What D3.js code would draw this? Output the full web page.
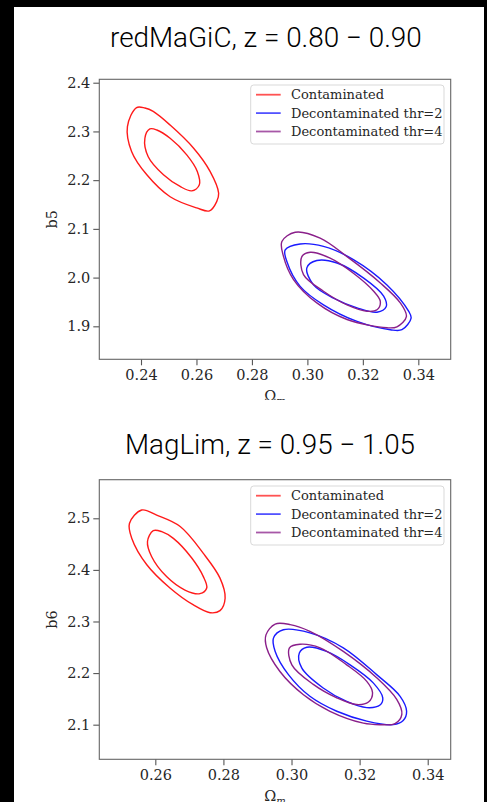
<!DOCTYPE html>
<html>
<head>
<meta charset="utf-8">
<script src="https://cdn.jsdelivr.net/npm/d3@7"></script>
<style>
  body { margin: 0; background: #000; }
  svg { display: block; }
</style>
</head>
<body>
<script>
// ---- data ----
const legendLabels = ["Contaminated", "Decontaminated thr=2", "Decontaminated thr=4"];
const seriesColors = ["#ff1a1a", "#1a1aff", "#8a1f8a"];

// redMaGiC panel
const rmTitle = "redMaGiC, z = 0.80 \u2212 0.90";
const rmXTicks = [0.24, 0.26, 0.28, 0.30, 0.32, 0.34];
const rmYTicks = [1.9, 2.0, 2.1, 2.2, 2.3, 2.4];
const rmContOuter = [[0.2384,2.349],[0.2351,2.310],[0.2366,2.259],[0.2421,2.211],[0.2505,2.166],[0.2601,2.143],[0.2647,2.137],[0.2673,2.156],[0.2680,2.173],[0.2649,2.218],[0.2589,2.266],[0.2505,2.313],[0.2444,2.341],[0.2414,2.348]];
const rmContInner = [[0.2432,2.305],[0.2414,2.286],[0.2426,2.248],[0.2481,2.211],[0.2541,2.187],[0.2583,2.178],[0.2610,2.190],[0.2603,2.218],[0.2565,2.252],[0.2505,2.286],[0.2457,2.303]];
const rmThr2Outer = [[0.2974,2.069],[0.2920,2.057],[0.2926,2.033],[0.2974,1.982],[0.3058,1.944],[0.3179,1.910],[0.3299,1.893],[0.3341,1.893],[0.3374,1.917],[0.3365,1.931],[0.3287,1.985],[0.3166,2.037],[0.3058,2.064]];
const rmThr2Inner = [[0.3034,2.035],[0.2998,2.020],[0.3022,1.985],[0.3094,1.958],[0.3179,1.938],[0.3251,1.929],[0.3284,1.940],[0.3275,1.962],[0.3203,1.999],[0.3107,2.030]];
const rmThr4Outer = [[0.2956,2.093],[0.2908,2.074],[0.2914,2.043],[0.2950,1.996],[0.3034,1.948],[0.3143,1.914],[0.3287,1.897],[0.3323,1.899],[0.3357,1.920],[0.3335,1.948],[0.3263,1.989],[0.3143,2.043],[0.3046,2.081]];
const rmThr4Inner = [[0.3010,2.052],[0.2980,2.043],[0.2986,2.006],[0.3058,1.972],[0.3143,1.944],[0.3215,1.931],[0.3251,1.934],[0.3263,1.951],[0.3239,1.972],[0.3166,2.009],[0.3082,2.040]];

// MagLim panel
const mlTitle = "MagLim, z = 0.95 \u2212 1.05";
const mlXTicks = [0.26, 0.28, 0.30, 0.32, 0.34];
const mlYTicks = [2.1, 2.2, 2.3, 2.4, 2.5];
const mlContOuter = [[0.2560,2.516],[0.2524,2.490],[0.2531,2.461],[0.2575,2.410],[0.2643,2.365],[0.2712,2.332],[0.2761,2.317],[0.2790,2.321],[0.2805,2.345],[0.2790,2.384],[0.2741,2.432],[0.2673,2.484],[0.2604,2.506]];
const mlContInner = [[0.2594,2.476],[0.2577,2.455],[0.2589,2.426],[0.2633,2.387],[0.2687,2.361],[0.2731,2.354],[0.2751,2.365],[0.2741,2.387],[0.2707,2.423],[0.2653,2.461],[0.2619,2.474]];
const mlThr2Outer = [[0.2976,2.284],[0.2947,2.268],[0.2952,2.242],[0.2991,2.197],[0.3054,2.155],[0.3133,2.126],[0.3221,2.107],[0.3299,2.100],[0.3328,2.108],[0.3338,2.126],[0.3319,2.155],[0.3250,2.197],[0.3152,2.249],[0.3054,2.278]];
const mlThr2Inner = [[0.3045,2.250],[0.3023,2.239],[0.3030,2.210],[0.3093,2.171],[0.3162,2.145],[0.3221,2.133],[0.3260,2.138],[0.3268,2.152],[0.3240,2.181],[0.3172,2.216],[0.3103,2.242]];
const mlThr4Outer = [[0.2952,2.295],[0.2925,2.274],[0.2927,2.249],[0.2966,2.203],[0.3035,2.158],[0.3113,2.126],[0.3211,2.103],[0.3260,2.100],[0.3304,2.102],[0.3324,2.120],[0.3309,2.149],[0.3250,2.191],[0.3152,2.242],[0.3054,2.281],[0.2996,2.294]];
const mlThr4Inner = [[0.3025,2.256],[0.2994,2.249],[0.3001,2.216],[0.3064,2.178],[0.3133,2.152],[0.3191,2.139],[0.3226,2.144],[0.3238,2.162],[0.3221,2.184],[0.3162,2.216],[0.3084,2.249]];

const W = 487, H = 802;

const svg = d3.select("body").append("svg")
  .attr("width", W).attr("height", H);

svg.append("rect").attr("width", W).attr("height", H).attr("fill", "#000");
svg.append("rect").attr("x", 14).attr("y", 7).attr("width", 470).attr("height", H - 7).attr("fill", "#fff");

const defs = svg.append("defs");

function drawPanel(p) {
  const clipId = "clip" + p.id;
  defs.append("clipPath").attr("id", clipId)
    .append("rect").attr("x", 0).attr("y", p.clipTop).attr("width", W).attr("height", p.clipBottom - p.clipTop);

  const g = svg.append("g").attr("clip-path", "url(#" + clipId + ")");

  const x = d3.scaleLinear().domain(p.xDomain).range([p.left, p.right]);
  const y = d3.scaleLinear().domain(p.yDomain).range([p.bottom, p.top]);

  // title
  g.append("text")
    .attr("x", p.titleX).attr("y", p.titleY)
    .attr("textLength", p.titleLen).attr("lengthAdjust", "spacingAndGlyphs")
    .style("font-family", "Roboto, 'Open Sans', sans-serif")
    .style("font-weight", 300)
    .style("font-size", "27px").style("fill", "#000")
    .text(p.title);

  // contours
  const line = d3.line().x(d => x(d[0])).y(d => y(d[1]))
    .curve(d3.curveCatmullRomClosed.alpha(0.5));
  p.series.forEach((s, i) => {
    s.forEach(c => {
      g.append("path").attr("d", line(c))
        .attr("fill", "none").attr("stroke", seriesColors[i])
        .attr("stroke-width", 1.4);
    });
  });

  // axes
  const xAxis = g.append("g").attr("transform", `translate(0,${p.bottom})`)
    .call(d3.axisBottom(x).tickValues(p.xTicks).tickFormat(d3.format(".2f")).tickSize(6).tickPadding(4));
  const yAxis = g.append("g").attr("transform", `translate(${p.left},0)`)
    .call(d3.axisLeft(y).tickValues(p.yTicks).tickFormat(d3.format(".1f")).tickSize(6).tickPadding(3));
  [xAxis, yAxis].forEach(a => {
    a.select(".domain").remove();
    a.selectAll(".tick line").attr("stroke", "#555").attr("stroke-width", 1.1);
    a.selectAll(".tick text")
      .style("font-family", "'DejaVu Serif', serif")
      .style("font-size", "14.5px").attr("fill", "#262626");
  });

  // frame
  g.append("rect")
    .attr("x", p.left).attr("y", p.top)
    .attr("width", p.right - p.left).attr("height", p.bottom - p.top)
    .attr("fill", "none").attr("stroke", "#666").attr("stroke-width", 1.1);

  // axis labels
  g.append("text")
    .attr("transform", `translate(56.5,${(p.top + p.bottom) / 2}) rotate(-90)`)
    .attr("text-anchor", "middle")
    .style("font-family", "'DejaVu Serif', serif").style("font-size", "14.5px").attr("fill", "#262626")
    .text(p.yLabel);

  // x label sits low, partly cut by the panel edge as in the source image
  const xl = g.append("text")
    .attr("x", (p.left + p.right) / 2).attr("y", p.bottom + 42)
    .attr("text-anchor", "middle")
    .style("font-family", "'DejaVu Serif', serif").style("font-size", "14.5px").attr("fill", "#262626");
  xl.append("tspan").text("\u03A9");
  xl.append("tspan").attr("dy", 3).style("font-size", "10px").style("font-style", "italic").text("m");

  // legend
  const lg = g.append("g");
  lg.append("rect")
    .attr("x", p.legX).attr("y", p.legY).attr("width", 193.3).attr("height", 59)
    .attr("rx", 3).attr("fill", "#fff").attr("fill-opacity", 0.8)
    .attr("stroke", "#d9d9d9").attr("stroke-width", 1);
  legendLabels.forEach((lab, i) => {
    const cy = p.legY + 9.7 + i * 18.4;
    lg.append("line")
      .attr("x1", p.legX + 5.3).attr("x2", p.legX + 30)
      .attr("y1", cy).attr("y2", cy)
      .attr("stroke", seriesColors[i]).attr("stroke-opacity", 0.75).attr("stroke-width", 1.8);
    lg.append("text")
      .attr("x", p.legX + 40.3).attr("y", cy + 4.6)
      .style("font-family", "'DejaVu Serif', serif").style("font-size", "13px").attr("fill", "#262626")
      .text(lab);
  });
}

drawPanel({
  id: "rm", title: rmTitle, titleX: 110, titleY: 46.7, titleLen: 311.7,
  clipTop: 7, clipBottom: 400,
  left: 99.3, right: 450.7, top: 79.3, bottom: 359.3,
  xDomain: [0.22496, 0.35168], yDomain: [1.8323, 2.407],
  xTicks: rmXTicks, yTicks: rmYTicks, yLabel: "b5",
  legX: 250.7, legY: 85,
  series: [[rmContOuter, rmContInner], [rmThr2Outer, rmThr2Inner], [rmThr4Outer, rmThr4Inner]]
});

drawPanel({
  id: "ml", title: mlTitle, titleX: 125, titleY: 454.3, titleLen: 290,
  clipTop: 400, clipBottom: 802,
  left: 99.3, right: 450.7, top: 479.7, bottom: 759.3,
  xDomain: [0.24355, 0.34675], yDomain: [2.0329, 2.5748],
  xTicks: mlXTicks, yTicks: mlYTicks, yLabel: "b6",
  legX: 250.7, legY: 486,
  series: [[mlContOuter, mlContInner], [mlThr2Outer, mlThr2Inner], [mlThr4Outer, mlThr4Inner]]
});
</script>
</body>
</html>
